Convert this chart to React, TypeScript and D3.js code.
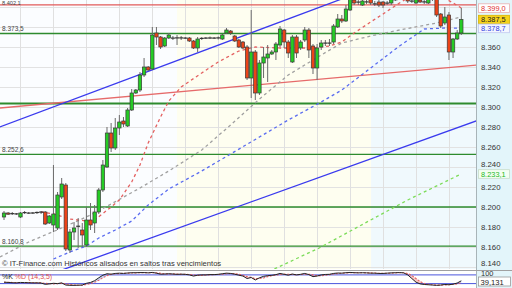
import React from "react";
import * as d3 from "d3";

// Daily candles (index points)
const opens = [
  8190, 8194, 8193.5, 8193, 8190, 8194.5, 8194, 8194, 8194.5, 8195,
  8195, 8184, 8182, 8179, 8210, 8222, 8157, 8175, 8181, 8177,
  8162, 8187, 8184, 8195, 8217, 8240, 8274, 8259, 8279, 8286,
  8281, 8297, 8314, 8317, 8332, 8340, 8338, 8374, 8370, 8361,
  8369, 8369, 8369, 8369.2, 8369, 8369, 8366, 8359, 8368.5, 8369,
  8369, 8368.8, 8369, 8368, 8374, 8376, 8371, 8367, 8365, 8360,
  8329, 8355, 8314, 8344, 8349, 8353, 8355, 8362, 8377, 8365,
  8345, 8370, 8359, 8367, 8377, 8361, 8339, 8360, 8364, 8363.8,
  8365, 8380, 8388, 8386, 8397, 8407, 8405, 8402, 8405, 8408,
  8403, 8405, 8405, 8404, 8404, 8407, 8410, 8412, 8410, 8406,
  8404, 8407, 8405, 8404, 8408, 8409, 8393, 8384, 8392, 8355,
  8368, 8374,
];
const highs = [
  8196, 8195, 8195, 8194, 8195, 8196, 8195, 8195, 8195.5, 8196,
  8196, 8192, 8242, 8215, 8229, 8224, 8178, 8185, 8189, 8184,
  8200, 8204, 8202, 8219, 8247, 8280, 8284, 8289, 8292, 8290,
  8299, 8318, 8318, 8335, 8349, 8341, 8380, 8380, 8371, 8370,
  8374, 8371, 8372, 8371, 8370, 8370, 8367, 8370, 8370, 8370,
  8370.5, 8370, 8370.5, 8373, 8379, 8377, 8372, 8368, 8366, 8362,
  8397, 8357, 8347, 8360, 8362, 8357, 8365, 8381, 8378, 8367,
  8372, 8372, 8367, 8380, 8379, 8363, 8363, 8367, 8367, 8368,
  8383, 8393, 8392, 8402, 8412, 8410, 8409, 8409, 8408, 8411,
  8406, 8407, 8406, 8406, 8410, 8413, 8415, 8414, 8411, 8408,
  8410, 8409, 8407, 8411, 8413, 8411, 8394, 8400, 8395, 8369,
  8377, 8399,
];
const lows = [
  8187, 8192, 8192, 8192, 8189, 8193, 8193, 8193, 8193, 8193,
  8182, 8183, 8175, 8177, 8208, 8156, 8154, 8167, 8159, 8160,
  8160, 8177, 8174, 8193, 8215, 8239, 8255, 8257, 8272, 8280,
  8280, 8296, 8313, 8315, 8330, 8336, 8337, 8362, 8358, 8360,
  8368, 8367, 8362, 8367, 8368, 8365, 8358, 8355, 8367, 8368,
  8368, 8368, 8367.5, 8367, 8373, 8372, 8365, 8359, 8358, 8327,
  8309, 8307, 8312, 8329, 8325, 8352, 8347, 8360, 8359, 8349,
  8344, 8349, 8357, 8365, 8349, 8333, 8327, 8357, 8361, 8361,
  8363, 8379, 8384, 8385, 8396, 8402, 8402, 8401, 8403, 8402,
  8401, 8400, 8399, 8402, 8402, 8406, 8408, 8407, 8404, 8404,
  8403, 8404, 8403, 8403, 8406, 8390, 8379, 8382, 8347, 8349,
  8367, 8372,
];
const closes = [
  8194, 8193, 8193.2, 8193.2, 8194, 8194.3, 8193.8, 8194, 8194.5, 8194.8,
  8183, 8191, 8193, 8212, 8223, 8158, 8175, 8179, 8180.5, 8172,
  8187, 8182, 8195, 8217, 8242, 8274, 8259, 8279, 8285, 8283,
  8297, 8314, 8317, 8332, 8340, 8337, 8372, 8370, 8360, 8369,
  8372, 8368.8, 8369.2, 8369, 8368.8, 8366, 8359, 8368, 8368.7, 8368.8,
  8369, 8369, 8369.2, 8372, 8377, 8374, 8366, 8360, 8359, 8329,
  8355, 8314, 8344, 8350, 8353, 8355, 8363, 8378, 8365, 8354,
  8370, 8354, 8365, 8377, 8357, 8339, 8359, 8364, 8363.8, 8364,
  8381, 8388, 8386, 8398, 8409, 8404, 8404.8, 8406, 8405.2, 8404,
  8403.2, 8402, 8402, 8403.8, 8408, 8410, 8412, 8409, 8406, 8405.8,
  8408, 8405, 8405.2, 8408, 8410, 8392, 8381, 8390, 8355, 8368,
  8374, 8387.5,
];

// Moving averages as [bar index, value]
const maFast: [number, number][] = [
  [9, 8195], [12, 8193], [16, 8188], [20, 8186], [22, 8187], [26, 8200], [28, 8207],
  [31, 8225], [33, 8242], [35, 8264], [38, 8290], [40, 8306], [43, 8320], [48, 8334],
  [52, 8345], [57, 8356], [61, 8360], [67, 8359], [72, 8359], [75, 8359], [79, 8361],
  [82, 8365], [85, 8374], [89, 8385], [92, 8393], [96, 8404], [98, 8409], [102, 8412],
  [106, 8411], [109, 8404], [111, 8399.0],
];
const maMid: [number, number][] = [
  [-1, 8150], [6, 8165], [14, 8179], [21, 8192], [26, 8203], [33, 8219], [40, 8236],
  [48, 8257], [55, 8282], [62, 8308], [69, 8332], [77, 8352], [82, 8364], [89, 8371],
  [96, 8377], [105, 8384], [111, 8390],
];
const maSlow: [number, number][] = [
  [12, 8148], [16, 8155], [20, 8161], [23, 8169], [27, 8177], [31, 8186], [35, 8202],
  [40, 8218], [48, 8236], [55, 8253], [62, 8270], [69, 8287], [77, 8305], [82, 8317],
  [89, 8339], [96, 8361], [102, 8378], [107, 8379], [111, 8378.7],
];
const maLong: [number, number][] = [
  [63, 8133], [76.5, 8159], [89, 8187], [98, 8207], [111, 8233.1],
];

// Trend lines [bar index, value]
const channelUpper: [number, number][] = [[-1, 8280], [115, 8459]];
const channelLower: [number, number][] = [[10, 8131], [115, 8286.6]];
const supportRed: [number, number][] = [[-1, 8299], [115, 8342.1]];
const resistanceRed = 8402.1;
const greenLevels = [8373.5, 8303.5, 8252.6, 8200, 8160.8];
const labeledLevels = [8402.1, 8373.5, 8252.6, 8160.8];

// Stochastic %K / %D (14,3,5)
const stochK = [
  30, 28, 26, 25, 28, 27, 26, 25, 25, 24,
  15, 18, 22, 20, 25, 10, 8, 8, 9, 10,
  22, 28, 40, 60, 78, 88, 85, 90, 92, 90,
  93, 95, 95, 96, 96, 94, 97, 92, 85, 86,
  88, 86, 84, 85, 84, 80, 72, 78, 80, 80,
  82, 82, 84, 88, 92, 90, 85, 78, 72, 55,
  62, 45, 60, 70, 75, 77, 82, 90, 84, 78,
  86, 80, 84, 90, 82, 68, 72, 80, 83, 84,
  90, 93, 92, 95, 97, 95, 94, 95, 94, 92,
  92, 90, 90, 92, 94, 95, 96, 94, 80, 55,
  30, 18, 14, 12, 10, 8, 10, 14, 12, 16,
  24, 39.131,
];
const stochD = [
  29, 29, 28, 27, 26, 27, 27, 26, 25, 25,
  22, 19, 18, 20, 22, 18, 14, 10, 9, 9,
  14, 20, 30, 43, 60, 75, 84, 88, 89, 91,
  91, 93, 94, 95, 96, 95, 95, 94, 91, 88,
  86, 87, 86, 85, 84, 83, 79, 77, 77, 79,
  81, 81, 83, 85, 88, 90, 89, 84, 78, 68,
  63, 54, 56, 59, 68, 74, 78, 83, 85, 84,
  83, 81, 83, 85, 85, 80, 74, 73, 78, 82,
  86, 89, 92, 93, 95, 96, 95, 95, 94, 94,
  93, 91, 91, 91, 92, 94, 95, 95, 90, 76,
  55, 34, 21, 15, 12, 10, 9, 11, 12, 14,
  17, 26,
];
const stochLevels = [20, 80];

// Session shading boundaries (bar index)
const sessionBreaks = [42, 89.1];
const yTicks = d3.range(8140, 8401, 20);
const gridBars = d3.range(4, 112, 8);

const locale = d3.formatLocale({ decimal: ",", thousands: ".", grouping: [3], currency: ["", " €"] });
const fmtTick = locale.format(",.0f");
const fmt1 = locale.format(",.1f");
const fmt3 = locale.format(",.3f");

const PLOT_R = 476;
const MAIN_B = 269;
const FONT = "'Liberation Sans', Arial, sans-serif";

export default function App() {
  const x = d3.scaleLinear().domain([0, 111]).range([4, 461.3]);
  const y = d3.scaleLinear().domain([8140, 8407]).range([267, 0]);
  const ys = d3.scaleLinear().domain([0, 100]).range([286.5, 272]);

  const line = d3
    .line<[number, number]>()
    .x((d) => x(d[0]))
    .y((d) => y(d[1]));

  const kLine = d3
    .line<number>()
    .x((_, i) => x(i))
    .y((d) => ys(d));

  const n = closes.length;
  const up = "#25cc25";
  const down = "#ec4318";
  const lastClose = closes[n - 1];

  const stochSegs = d3.range(n - 1).map((i) => {
    const diff = stochK[i] + stochK[i + 1] - stochD[i] - stochD[i + 1];
    const pts = [
      [x(i), ys(stochK[i])],
      [x(i + 1), ys(stochK[i + 1])],
      [x(i + 1), ys(stochD[i + 1])],
      [x(i), ys(stochD[i])],
    ];
    return { d: "M" + pts.map((p) => p.join(",")).join("L") + "Z", fill: diff >= 0 ? "#9fb8ee" : "#f3a0a0" };
  });

  const bandX = [0, x(sessionBreaks[0]), x(sessionBreaks[1]), PLOT_R];
  const bandFill = ["#fbfdff", "#fefef0", "#f0f9fd"];

  const rightLabels = [
    { v: maFast[maFast.length - 1][1], text: "#e03030", bg: "#ffffff", border: "#e8b0b0" },
    { v: lastClose, text: "#222", bg: "#f7d31c", border: "#d8b400" },
    { v: maSlow[maSlow.length - 1][1], text: "#3040e0", bg: "#f4f6ff", border: "#c0c8f0" },
    { v: maLong[maLong.length - 1][1], text: "#22b822", bg: "#f3fff3", border: "#c8dcc8" },
  ];
  const labelYs = rightLabels.map((l) => y(l.v));

  // axis ticks hidden under value boxes, or nudged clear of them
  const tickItems = yTicks
    .map((t) => {
      let cy = Math.min(y(t), 263.5);
      const near = labelYs.map((ly) => cy - ly);
      if (near.some((d) => Math.abs(d) < 5.5)) return null;
      near.forEach((d) => {
        if (Math.abs(d) < 9.5) cy += (d > 0 ? 9.5 - d : -(9.5 + d));
      });
      return { t, cy };
    })
    .filter(Boolean) as { t: number; cy: number }[];

  return (
    <svg
      width={512}
      height={288}
      style={{ position: "fixed", left: 0, top: 0, display: "block" }}
      fontFamily={FONT}
    >
      <defs>
        <clipPath id="mainClip">
          <rect x={0} y={0} width={PLOT_R} height={MAIN_B} />
        </clipPath>
        <clipPath id="stochClip">
          <rect x={0} y={271} width={PLOT_R} height={17} />
        </clipPath>
        <clipPath id="axisStochClip">
          <rect x={PLOT_R} y={271} width={512 - PLOT_R} height={17} />
        </clipPath>
      </defs>

      {/* backgrounds */}
      <rect x={0} y={0} width={512} height={288} fill="#ffffff" />
      {bandFill.map((f, i) => (
        <rect key={i} x={bandX[i]} y={0} width={bandX[i + 1] - bandX[i]} height={MAIN_B} fill={f} />
      ))}
      <rect x={PLOT_R} y={0} width={512 - PLOT_R} height={288} fill="#e3f5fa" />

      <g clipPath="url(#mainClip)">
        {/* grid */}
        {yTicks.map((t) => (
          <line key={t} x1={0} x2={PLOT_R} y1={y(t) + 0.5} y2={y(t) + 0.5} stroke="#e2e2e2" strokeWidth={1} />
        ))}
        {gridBars.map((b) => (
          <line key={b} x1={Math.round(x(b)) + 0.5} x2={Math.round(x(b)) + 0.5} y1={0} y2={MAIN_B} stroke="#e0e0e0" strokeWidth={1} />
        ))}

        {/* horizontal levels */}
        {greenLevels.map((v, i) => (
          <line key={v} x1={0} x2={PLOT_R} y1={y(v)} y2={y(v)} stroke="#2e8b2e" strokeWidth={i === 1 ? 2 : 1.3} />
        ))}
        <line x1={0} x2={PLOT_R} y1={y(resistanceRed)} y2={y(resistanceRed)} stroke="#e25a5a" strokeWidth={1.3} />

        {/* trend lines */}
        <path d={line(supportRed) || ""} fill="none" stroke="#e66a6a" strokeWidth={1.3} />
        <path d={line(channelUpper) || ""} fill="none" stroke="#3a3aee" strokeWidth={1.3} />
        <path d={line(channelLower) || ""} fill="none" stroke="#3a3aee" strokeWidth={1.3} />

        {/* moving averages */}
        <path d={line(maLong) || ""} fill="none" stroke="#7ddc5a" strokeWidth={1.3} strokeDasharray="3,3" />
        <path d={line(maSlow) || ""} fill="none" stroke="#5a6cf0" strokeWidth={1.3} strokeDasharray="3,3" />
        <path d={line(maMid) || ""} fill="none" stroke="#a0a0a0" strokeWidth={1.3} strokeDasharray="3,3" />
        <path d={line(maFast) || ""} fill="none" stroke="#e46060" strokeWidth={1.3} strokeDasharray="3,3" />

        {/* candles */}
        {closes.map((c, i) => {
          const o = opens[i];
          const cx = x(i);
          const top = y(Math.max(o, c));
          const bot = y(Math.min(o, c));
          const doji = Math.abs(o - c) < 0.6;
          return (
            <g key={i}>
              <line x1={cx} x2={cx} y1={y(highs[i])} y2={y(lows[i])} stroke="#6a6a6a" strokeWidth={1} />
              {doji ? (
                <line x1={cx - 2} x2={cx + 2} y1={(top + bot) / 2} y2={(top + bot) / 2} stroke="#333" strokeWidth={1.2} />
              ) : (
                <rect
                  x={cx - 1.7}
                  y={top}
                  width={3.4}
                  height={Math.max(1.2, bot - top)}
                  fill={c >= o ? up : down}
                  stroke="#3a3a3a"
                  strokeWidth={0.7}
                />
              )}
            </g>
          );
        })}

        {/* level captions */}
        {labeledLevels.map((v, i) => (
          <text key={v} x={2} y={i === 0 ? 4.6 : y(v) - 2.5} fontSize={i === 0 ? 5.6 : 6.5} fill="#444">
            {fmt1(v)}
          </text>
        ))}
        <text x={2} y={266} fontSize={7.6} fill="#333">
          © IT-Finance.com  Históricos alisados en saltos tras vencimientos
        </text>
      </g>

      {/* panel borders */}
      <line x1={PLOT_R + 0.5} x2={PLOT_R + 0.5} y1={0} y2={288} stroke="#a8b4b8" strokeWidth={1} />
      <line x1={0} x2={512} y1={270.5} y2={270.5} stroke="#a0a0a0" strokeWidth={1} />

      {/* price axis */}
      {tickItems.map(({ t, cy }) => (
        <text key={t} x={481} y={cy + 2.8} fontSize={7.8} fill="#333">
          {fmtTick(t)}
        </text>
      ))}
      {rightLabels.map((l, i) => (
        <g key={i}>
          <rect x={478.5} y={y(l.v) - 4.2} width={31} height={8.6} fill={l.bg} stroke={l.border} strokeWidth={0.8} />
          <text x={481} y={y(l.v) + 2.8} fontSize={7.4} fill={l.text}>
            {fmt1(l.v)}
          </text>
        </g>
      ))}

      {/* stochastic panel */}
      <g clipPath="url(#stochClip)">
        <rect x={0} y={271} width={PLOT_R} height={17} fill="#ffffff" />
        {stochSegs.map((s, i) => (
          <path key={i} d={s.d} fill={s.fill} opacity={0.6} />
        ))}
        {stochLevels.map((v) => (
          <line key={v} x1={0} x2={PLOT_R} y1={ys(v)} y2={ys(v)} stroke="#4a55dd" strokeWidth={1} />
        ))}
        <path d={kLine(stochD) || ""} fill="none" stroke="#e66060" strokeWidth={1.1} strokeDasharray="2,1.5" />
        <path d={kLine(stochK) || ""} fill="none" stroke="#222" strokeWidth={1} />
        <text x={2} y={278.5} fontSize={7} fill="#222">
          %K <tspan fill="#e05050">%D (14,3,5)</tspan>
        </text>
      </g>
      <g clipPath="url(#axisStochClip)">
        <text x={481} y={275.5} fontSize={7.5} fill="#333">
          100
        </text>
      </g>
      <rect x={478.5} y={277} width={32} height={9} fill="#ffffff" stroke="#999" strokeWidth={0.8} />
      <text x={480.5} y={284.5} fontSize={7.6} fill="#222">
        {fmt3(stochK[n - 1])}
      </text>
    </svg>
  );
}
